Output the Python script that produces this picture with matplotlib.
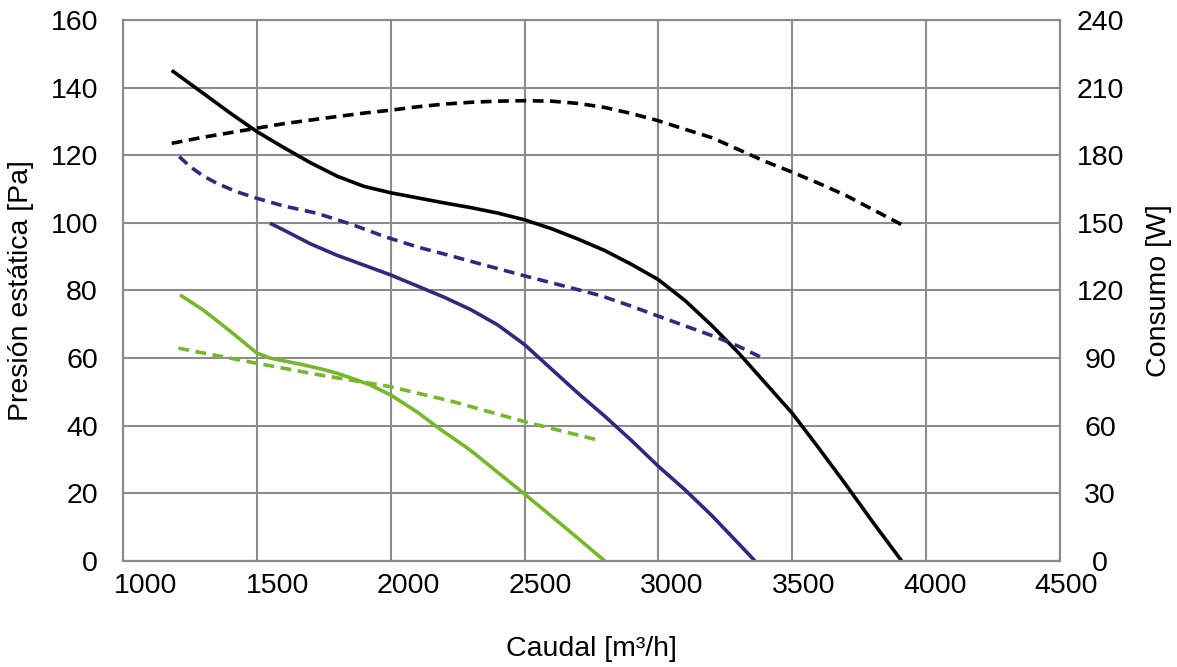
import matplotlib
matplotlib.use("Agg")
import matplotlib.pyplot as plt
from matplotlib.transforms import ScaledTranslation

plt.rcParams['font.family'] = ['Liberation Sans', 'DejaVu Sans']

# Curvas de presión (eje izquierdo, Pa)
caudal_negro = [1182, 1300, 1400, 1500, 1600, 1700, 1800, 1900, 2000, 2100, 2200, 2300, 2400, 2500,
                2600, 2700, 2800, 2900, 3000, 3100, 3200, 3300, 3400, 3500, 3600, 3700, 3800, 3909]
presion_negro = [145.1, 138.3, 132.5, 127.0, 122.3, 117.8, 113.8, 110.8, 108.9, 107.4, 105.9, 104.5, 102.9, 100.9,
                 98.3, 95.2, 91.8, 87.7, 83.2, 77.0, 69.6, 61.5, 52.6, 43.7, 33.3, 22.6, 11.6, 0]

caudal_azul = [1549, 1600, 1700, 1800, 1900, 2000, 2100, 2200, 2300, 2400, 2500,
               2600, 2700, 2800, 2900, 3000, 3100, 3200, 3300, 3361]
presion_azul = [99.9, 97.9, 93.8, 90.4, 87.5, 84.6, 81.3, 78.0, 74.3, 69.8, 64.0,
                56.8, 49.6, 42.8, 35.6, 28.0, 21.0, 13.4, 5.1, 0]

caudal_verde = [1213, 1300, 1400, 1500, 1550, 1600, 1674, 1750, 1800, 1860, 1922, 2000,
                2100, 2172, 2297, 2400, 2500, 2650, 2800]
presion_verde = [78.7, 74.2, 68.0, 61.5, 60.0, 59.2, 58.0, 56.6, 55.5, 53.9, 52.1, 49.1,
                 44.0, 39.7, 32.8, 26.2, 19.8, 10.0, 0]

# Curvas de consumo (eje derecho, W)
caudal_negro_w = [1182, 1300, 1400, 1500, 1600, 1750, 1900, 2000, 2100, 2200, 2300, 2400, 2500, 2600,
                  2700, 2800, 2900, 3000, 3100, 3200, 3300, 3400, 3500, 3600, 3700, 3800, 3928]
consumo_negro = [185.3, 188.0, 190.0, 192.0, 194.0, 196.4, 198.7, 200.0, 201.5, 202.7, 203.5, 204.0, 204.2, 204.0,
                 203.0, 201.2, 198.5, 195.3, 191.5, 187.8, 182.5, 177.2, 172.5, 167.5, 162.2, 156.0, 148.0]

caudal_azul_w = [1210, 1250, 1300, 1350, 1420, 1500, 1600, 1723, 1850, 1980, 2100, 2221, 2350, 2500,
                 2650, 2782, 2900, 3000, 3100, 3218, 3300, 3392]
consumo_azul = [179.4, 175.0, 170.8, 167.6, 164.0, 160.9, 157.5, 154.3, 149.5, 143.8, 139.3, 135.5, 131.3, 126.5,
                121.9, 117.8, 113.0, 108.6, 104.3, 99.2, 95.2, 89.9]

caudal_verde_w = [1207, 1500, 1736, 2000, 2233, 2500, 2782]
consumo_verde = [94.4, 87.7, 82.5, 77.3, 70.7, 61.8, 53.4]

x_ticks = [1000, 1500, 2000, 2500, 3000, 3500, 4000, 4500]
y_ticks = [0, 20, 40, 60, 80, 100, 120, 140, 160]
y2_ticks = [0, 30, 60, 90, 120, 150, 180, 210, 240]

NEGRO = '#000000'
AZUL = '#2f2a80'
VERDE = '#76b82a'
GRIS = '#8c8c8c'
FS = 20.5

fig = plt.figure(figsize=(11.77, 6.67), dpi=100)
ax = fig.add_axes([0.1045, 0.159, 0.796, 0.811])
ax2 = ax.twinx()

lw = 2.6
dash = (3.0, 1.8)
ax.plot(caudal_negro, presion_negro, color=NEGRO, lw=lw, solid_capstyle='butt')
ax.plot(caudal_azul, presion_azul, color=AZUL, lw=lw, solid_capstyle='butt')
ax.plot(caudal_verde, presion_verde, color=VERDE, lw=lw, solid_capstyle='butt')
ax2.plot(caudal_negro_w, consumo_negro, color=NEGRO, lw=lw, dashes=dash)
ax2.plot(caudal_azul_w, consumo_azul, color=AZUL, lw=lw, dashes=dash)
ax2.plot(caudal_verde_w, consumo_verde, color=VERDE, lw=lw, dashes=dash)

ax.set_xlim(1000, 4500)
ax.set_ylim(0, 160)
ax2.set_ylim(0, 240)
ax.set_xticks(x_ticks)
ax.set_yticks(y_ticks)
ax2.set_yticks(y2_ticks)

ax.grid(True, color=GRIS, lw=1.5)
ax.set_axisbelow(True)
for a in (ax, ax2):
    for s in a.spines.values():
        s.set_color(GRIS)
        s.set_linewidth(1.5)
    a.tick_params(length=0, labelsize=FS, colors='black')

ax.tick_params(axis='x', pad=9)
ax.tick_params(axis='y', pad=18)
ax2.tick_params(axis='y', pad=29)
for lab in ax2.get_yticklabels():
    lab.set_horizontalalignment('center')

# etiquetas del eje x algo desplazadas a la derecha, como en el original
for i, lab in enumerate(ax.get_xticklabels()):
    dx = (22.7 - 2.3 * i) / 100
    lab.set_transform(lab.get_transform() + ScaledTranslation(dx, 0, fig.dpi_scale_trans))

ax.set_xlabel('Caudal [m³/h]', fontsize=FS, labelpad=26)
ax.set_ylabel('Presión estática [Pa]', fontsize=FS, labelpad=12)
ax2.set_ylabel('Consumo [W]', fontsize=FS, labelpad=16)

fig.savefig('out.png', dpi=100)
